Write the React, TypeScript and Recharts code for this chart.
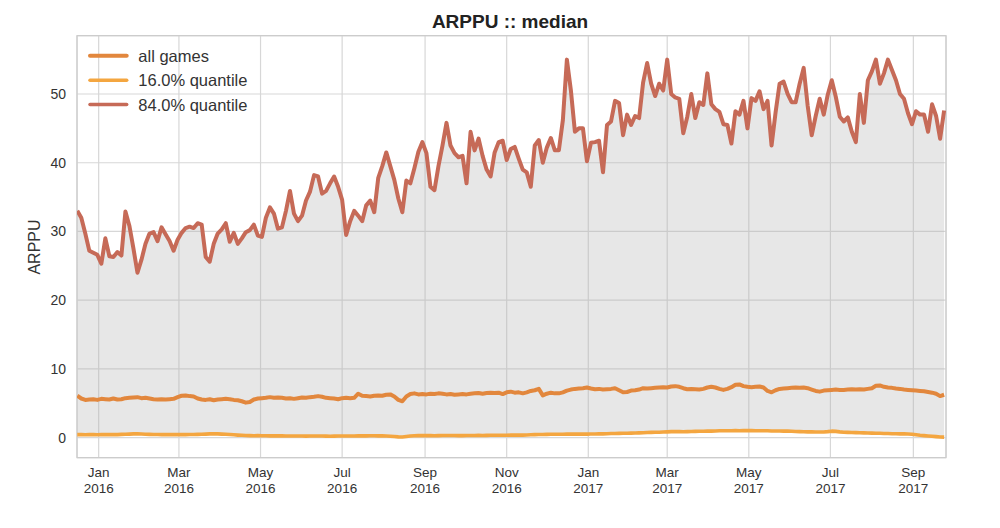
import React from 'react';
import { ComposedChart, Area, Line, XAxis, YAxis, CartesianGrid, ReferenceArea } from 'recharts';

const DAY = 86400000;
const START = Date.UTC(2015, 11, 16);
const STEP_DAYS = 3;

const hi84 = [
  33.0, 32.0, 29.7, 27.2, 26.9, 26.6, 25.3, 29.0, 26.4, 26.3,
  27.0, 26.5, 32.9, 30.8, 27.5, 24.0, 25.9, 28.2, 29.7, 29.9,
  28.6, 30.6, 29.6, 28.6, 27.2, 28.8, 29.8, 30.5, 30.7, 30.5,
  31.2, 31.0, 26.3, 25.6, 28.2, 29.7, 30.3, 31.2, 28.5, 29.8,
  28.2, 29.0, 29.9, 30.2, 31.0, 29.4, 29.2, 32.0, 33.5, 32.6,
  30.4, 30.6, 33.0, 35.9, 32.6, 31.5, 32.3, 34.5, 35.8, 38.2,
  38.0, 35.5, 35.9, 37.0, 38.0, 36.5, 34.6, 29.5, 31.5, 33.0,
  32.3, 31.5, 33.8, 34.5, 32.8, 37.8, 39.5, 41.5, 39.5, 37.5,
  34.8, 32.8, 37.4, 37.0, 39.2, 41.6, 43.0, 41.4, 36.5, 36.0,
  39.5, 42.5, 45.8, 42.5, 41.4, 40.8, 41.0, 37.0, 44.5, 41.8,
  43.5, 41.0, 39.0, 38.0, 41.5, 43.0, 43.2, 40.4, 42.0, 42.3,
  40.6, 39.0, 38.6, 36.5, 42.5, 43.3, 40.0, 42.2, 43.6, 41.8,
  41.8, 46.2, 55.0, 50.5, 44.5, 45.0, 45.0, 40.2, 42.9, 43.0,
  43.2, 38.6, 45.5, 46.0, 49.0, 48.7, 44.0, 47.0, 45.5, 46.8,
  46.5, 51.7, 54.5, 51.5, 49.7, 51.5, 50.5, 55.0, 50.0, 49.5,
  49.3, 44.3, 46.7, 50.0, 46.5, 48.8, 48.4, 53.0, 48.5, 47.8,
  47.4, 45.6, 45.5, 42.8, 47.5, 47.0, 49.0, 45.0, 49.4, 49.0,
  50.4, 47.8, 49.0, 42.5, 47.3, 51.5, 51.8, 50.0, 48.8, 48.8,
  51.5, 53.8, 48.3, 44.0, 46.8, 49.3, 47.0, 49.9, 52.0, 49.6,
  46.7, 46.0, 46.6, 44.5, 43.0, 50.0, 45.8, 52.0, 53.3, 55.0,
  51.5, 53.0, 55.0, 53.5, 52.0, 50.0, 49.3, 47.2, 45.6, 47.5,
  47.0, 47.0, 44.5, 48.5, 46.8, 43.5, 47.6,
];

const allGames = [
  6.1, 5.7, 5.5, 5.55, 5.6, 5.5, 5.65, 5.6, 5.55, 5.7,
  5.55, 5.6, 5.75, 5.8, 5.85, 5.9, 5.75, 5.8, 5.7, 5.6,
  5.55, 5.6, 5.55, 5.6, 5.65, 5.9, 6.1, 6.15, 6.05, 6.0,
  5.7, 5.55, 5.5, 5.6, 5.45, 5.55, 5.6, 5.65, 5.6, 5.5,
  5.45, 5.3, 5.1, 5.2, 5.55, 5.7, 5.75, 5.8, 5.9, 5.8,
  5.85, 5.8, 5.7, 5.75, 5.65, 5.75, 5.85, 5.8, 5.9, 5.95,
  6.05, 5.95, 5.8, 5.75, 5.7, 5.6, 5.75, 5.8, 5.75, 5.8,
  6.4, 6.1, 6.05, 6.0, 6.1, 6.15, 6.1, 6.25, 6.3, 6.0,
  5.5, 5.3, 6.0, 6.35, 6.45, 6.3, 6.35, 6.3, 6.4, 6.35,
  6.45, 6.4, 6.3, 6.35, 6.25, 6.3, 6.35, 6.3, 6.4, 6.45,
  6.5, 6.4, 6.5, 6.55, 6.5, 6.55, 6.35, 6.6, 6.7, 6.55,
  6.6, 6.45, 6.6, 6.8, 6.9, 7.1, 6.15, 6.4, 6.55, 6.45,
  6.45, 6.6, 6.85, 7.0, 7.1, 7.15, 7.2, 7.3, 7.15, 7.05,
  7.1, 7.0, 7.05, 7.1, 7.2, 6.9, 6.6, 6.65, 6.85, 6.9,
  7.0, 7.2, 7.15, 7.2, 7.25, 7.3, 7.35, 7.3, 7.45, 7.5,
  7.4, 7.2, 7.05, 7.1, 7.05, 7.0, 7.1, 7.3, 7.4, 7.3,
  7.1, 6.95, 7.1, 7.35, 7.7, 7.75, 7.5, 7.4, 7.35, 7.4,
  7.45, 7.3, 6.8, 6.6, 6.9, 7.1, 7.15, 7.2, 7.25, 7.3,
  7.25, 7.3, 7.2, 7.0, 6.8, 6.7, 6.85, 6.9, 6.95, 7.0,
  6.95, 6.95, 7.0, 7.05, 7.0, 7.05, 7.0, 7.1, 7.2, 7.55,
  7.6, 7.4, 7.3, 7.25, 7.15, 7.1, 7.0, 6.95, 6.9, 6.85,
  6.8, 6.75, 6.65, 6.55, 6.4, 6.05, 6.25,
];

const lo16 = [
  0.45, 0.45, 0.42, 0.44, 0.45, 0.43, 0.45, 0.46, 0.45, 0.44,
  0.45, 0.48, 0.5, 0.52, 0.55, 0.55, 0.53, 0.5, 0.48, 0.47,
  0.46, 0.45, 0.44, 0.45, 0.46, 0.45, 0.44, 0.45, 0.46, 0.47,
  0.48, 0.5, 0.52, 0.55, 0.56, 0.55, 0.52, 0.5, 0.46, 0.42,
  0.38, 0.35, 0.32, 0.3, 0.28, 0.3, 0.29, 0.28, 0.27, 0.26,
  0.27, 0.26, 0.25, 0.25, 0.24, 0.25, 0.24, 0.23, 0.24, 0.25,
  0.24, 0.24, 0.23, 0.22, 0.23, 0.24, 0.25, 0.24, 0.24, 0.25,
  0.26, 0.26, 0.27, 0.28, 0.28, 0.27, 0.26, 0.25, 0.22, 0.18,
  0.12, 0.1, 0.18, 0.25, 0.28, 0.3, 0.3, 0.31, 0.3, 0.29,
  0.3, 0.31, 0.32, 0.32, 0.31, 0.3, 0.3, 0.31, 0.32, 0.33,
  0.34, 0.33, 0.34, 0.35, 0.35, 0.36, 0.35, 0.36, 0.37, 0.38,
  0.37, 0.38, 0.4, 0.42, 0.44, 0.46, 0.47, 0.48, 0.5, 0.5,
  0.5, 0.51, 0.52, 0.52, 0.52, 0.53, 0.52, 0.52, 0.53, 0.54,
  0.55, 0.56, 0.58, 0.6, 0.62, 0.63, 0.64, 0.65, 0.66, 0.68,
  0.7, 0.72, 0.75, 0.78, 0.8, 0.8, 0.82, 0.85, 0.88, 0.9,
  0.88, 0.86, 0.88, 0.9, 0.92, 0.93, 0.94, 0.95, 0.96, 0.98,
  1.0, 1.0, 1.02, 1.02, 1.03, 1.02, 1.03, 1.04, 1.03, 1.02,
  1.02, 1.0, 1.0, 0.98, 0.98, 0.97, 0.96, 0.95, 0.93, 0.9,
  0.88, 0.86, 0.85, 0.84, 0.83, 0.82, 0.83, 0.88, 0.95, 0.92,
  0.85, 0.8, 0.78, 0.76, 0.74, 0.72, 0.7, 0.68, 0.66, 0.65,
  0.64, 0.62, 0.6, 0.58, 0.57, 0.56, 0.55, 0.54, 0.5, 0.42,
  0.35, 0.3, 0.25, 0.2, 0.15, 0.1, 0.08,
];

const tickTimes = [
  Date.UTC(2016, 0, 1), Date.UTC(2016, 2, 1), Date.UTC(2016, 4, 1), Date.UTC(2016, 6, 1),
  Date.UTC(2016, 8, 1), Date.UTC(2016, 10, 1), Date.UTC(2017, 0, 1), Date.UTC(2017, 2, 1),
  Date.UTC(2017, 4, 1), Date.UTC(2017, 6, 1), Date.UTC(2017, 8, 1),
];
const tickMonths = ['Jan', 'Mar', 'May', 'Jul', 'Sep', 'Nov', 'Jan', 'Mar', 'May', 'Jul', 'Sep'];
const tickYears = ['2016', '2016', '2016', '2016', '2016', '2016', '2017', '2017', '2017', '2017', '2017'];
const yTicks = [0, 10, 20, 30, 40, 50];

const seriesNames = ['all games', '16.0% quantile', '84.0% quantile'];
const seriesColors = ['#e2873d', '#f4a640', '#c66a57'];

const data = hi84.map((h, i) => ({
  t: START + i * STEP_DAYS * DAY,
  hi: h,
  lo: lo16[i],
  all: allGames[i],
  band: [lo16[i], h],
}));

const X_DOMAIN = [START - 0.2 * DAY, Date.UTC(2017, 8, 1) + 24.4 * DAY];
const Y_DOMAIN = [-2.91, 58.48];

const FONT = '"Liberation Sans", Arial, sans-serif';

const XTick = (props: any) => {
  const { x, y, payload } = props;
  const idx = tickTimes.indexOf(payload.value);
  return (
    <g>
      <text x={x} y={y + 19} textAnchor="middle" fontSize={13.5} fill="#333" fontFamily={FONT}>
        {tickMonths[idx]}
      </text>
      <text x={x} y={y + 35} textAnchor="middle" fontSize={13.5} fill="#333" fontFamily={FONT}>
        {tickYears[idx]}
      </text>
    </g>
  );
};

const YTick = (props: any) => {
  const { x, y, payload } = props;
  return (
    <text x={x} y={y} dy="0.35em" textAnchor="end" fontSize={14} fill="#333" fontFamily={FONT}>
      {payload.value}
    </text>
  );
};

export default function App() {
  const W = 984;
  const H = 512;
  const legendYs = [47.7, 72.3, 96.5];
  const legendWidths = [4, 3.5, 3.5];
  return (
    <div style={{ position: 'relative', width: W, height: H, fontFamily: FONT }}>
      <ComposedChart
        width={W}
        height={H}
        data={data}
        margin={{ top: 27.7, right: 46, bottom: 0, left: 0 }}
      >
        <CartesianGrid stroke="#d7d7d7" strokeWidth={1.2} />
        <XAxis
          dataKey="t"
          type="number"
          domain={X_DOMAIN}
          allowDataOverflow
          ticks={tickTimes}
          tick={<XTick />}
          axisLine={false}
          tickLine={false}
          tickSize={0}
          tickMargin={0}
          height={62.3}
          interval={0}
        />
        <YAxis
          type="number"
          domain={Y_DOMAIN}
          allowDataOverflow
          ticks={yTicks}
          tick={<YTick />}
          axisLine={false}
          tickLine={false}
          tickSize={0}
          tickMargin={11}
          width={69}
          interval={0}
        />
        <Area
          dataKey="band"
          type="linear"
          fill="#b0b0b0"
          fillOpacity={0.3}
          stroke="none"
          isAnimationActive={false}
          activeDot={false}
        />
        <Line dataKey="lo" type="linear" stroke={seriesColors[1]} strokeWidth={3.6} strokeLinejoin="round" dot={false} isAnimationActive={false} />
        <Line dataKey="all" type="linear" stroke={seriesColors[0]} strokeWidth={4} strokeLinejoin="round" dot={false} isAnimationActive={false} />
        <Line dataKey="hi" type="linear" stroke={seriesColors[2]} strokeWidth={4} strokeLinejoin="round" dot={false} isAnimationActive={false} />
        <ReferenceArea
          x1={X_DOMAIN[0]}
          x2={X_DOMAIN[1]}
          y1={Y_DOMAIN[0]}
          y2={Y_DOMAIN[1]}
          fill="none"
          stroke="#cccccc"
          strokeWidth={1.2}
          ifOverflow="extendDomain"
        />
      </ComposedChart>
      <svg
        width={W}
        height={H}
        style={{ position: 'absolute', left: 0, top: 0, pointerEvents: 'none' }}
      >
        <text x={502} y={20} textAnchor="middle" fontSize={19} fontWeight="bold" fill="#222" fontFamily={FONT}>
          ARPPU :: median
        </text>
        <text
          x={32}
          y={239}
          textAnchor="middle"
          fontSize={16}
          fill="#333"
          fontFamily={FONT}
          transform="rotate(-90, 32, 239)"
        >
          ARPPU
        </text>
        {seriesNames.map((name, i) => (
          <g key={name}>
            <line
              x1={82}
              x2={118.7}
              y1={legendYs[i]}
              y2={legendYs[i]}
              stroke={seriesColors[i]}
              strokeWidth={legendWidths[i]}
              strokeLinecap="round"
            />
            <text x={130.3} y={legendYs[i] + 6} fontSize={16.5} fill="#333" fontFamily={FONT}>
              {name}
            </text>
          </g>
        ))}
      </svg>
    </div>
  );
}
